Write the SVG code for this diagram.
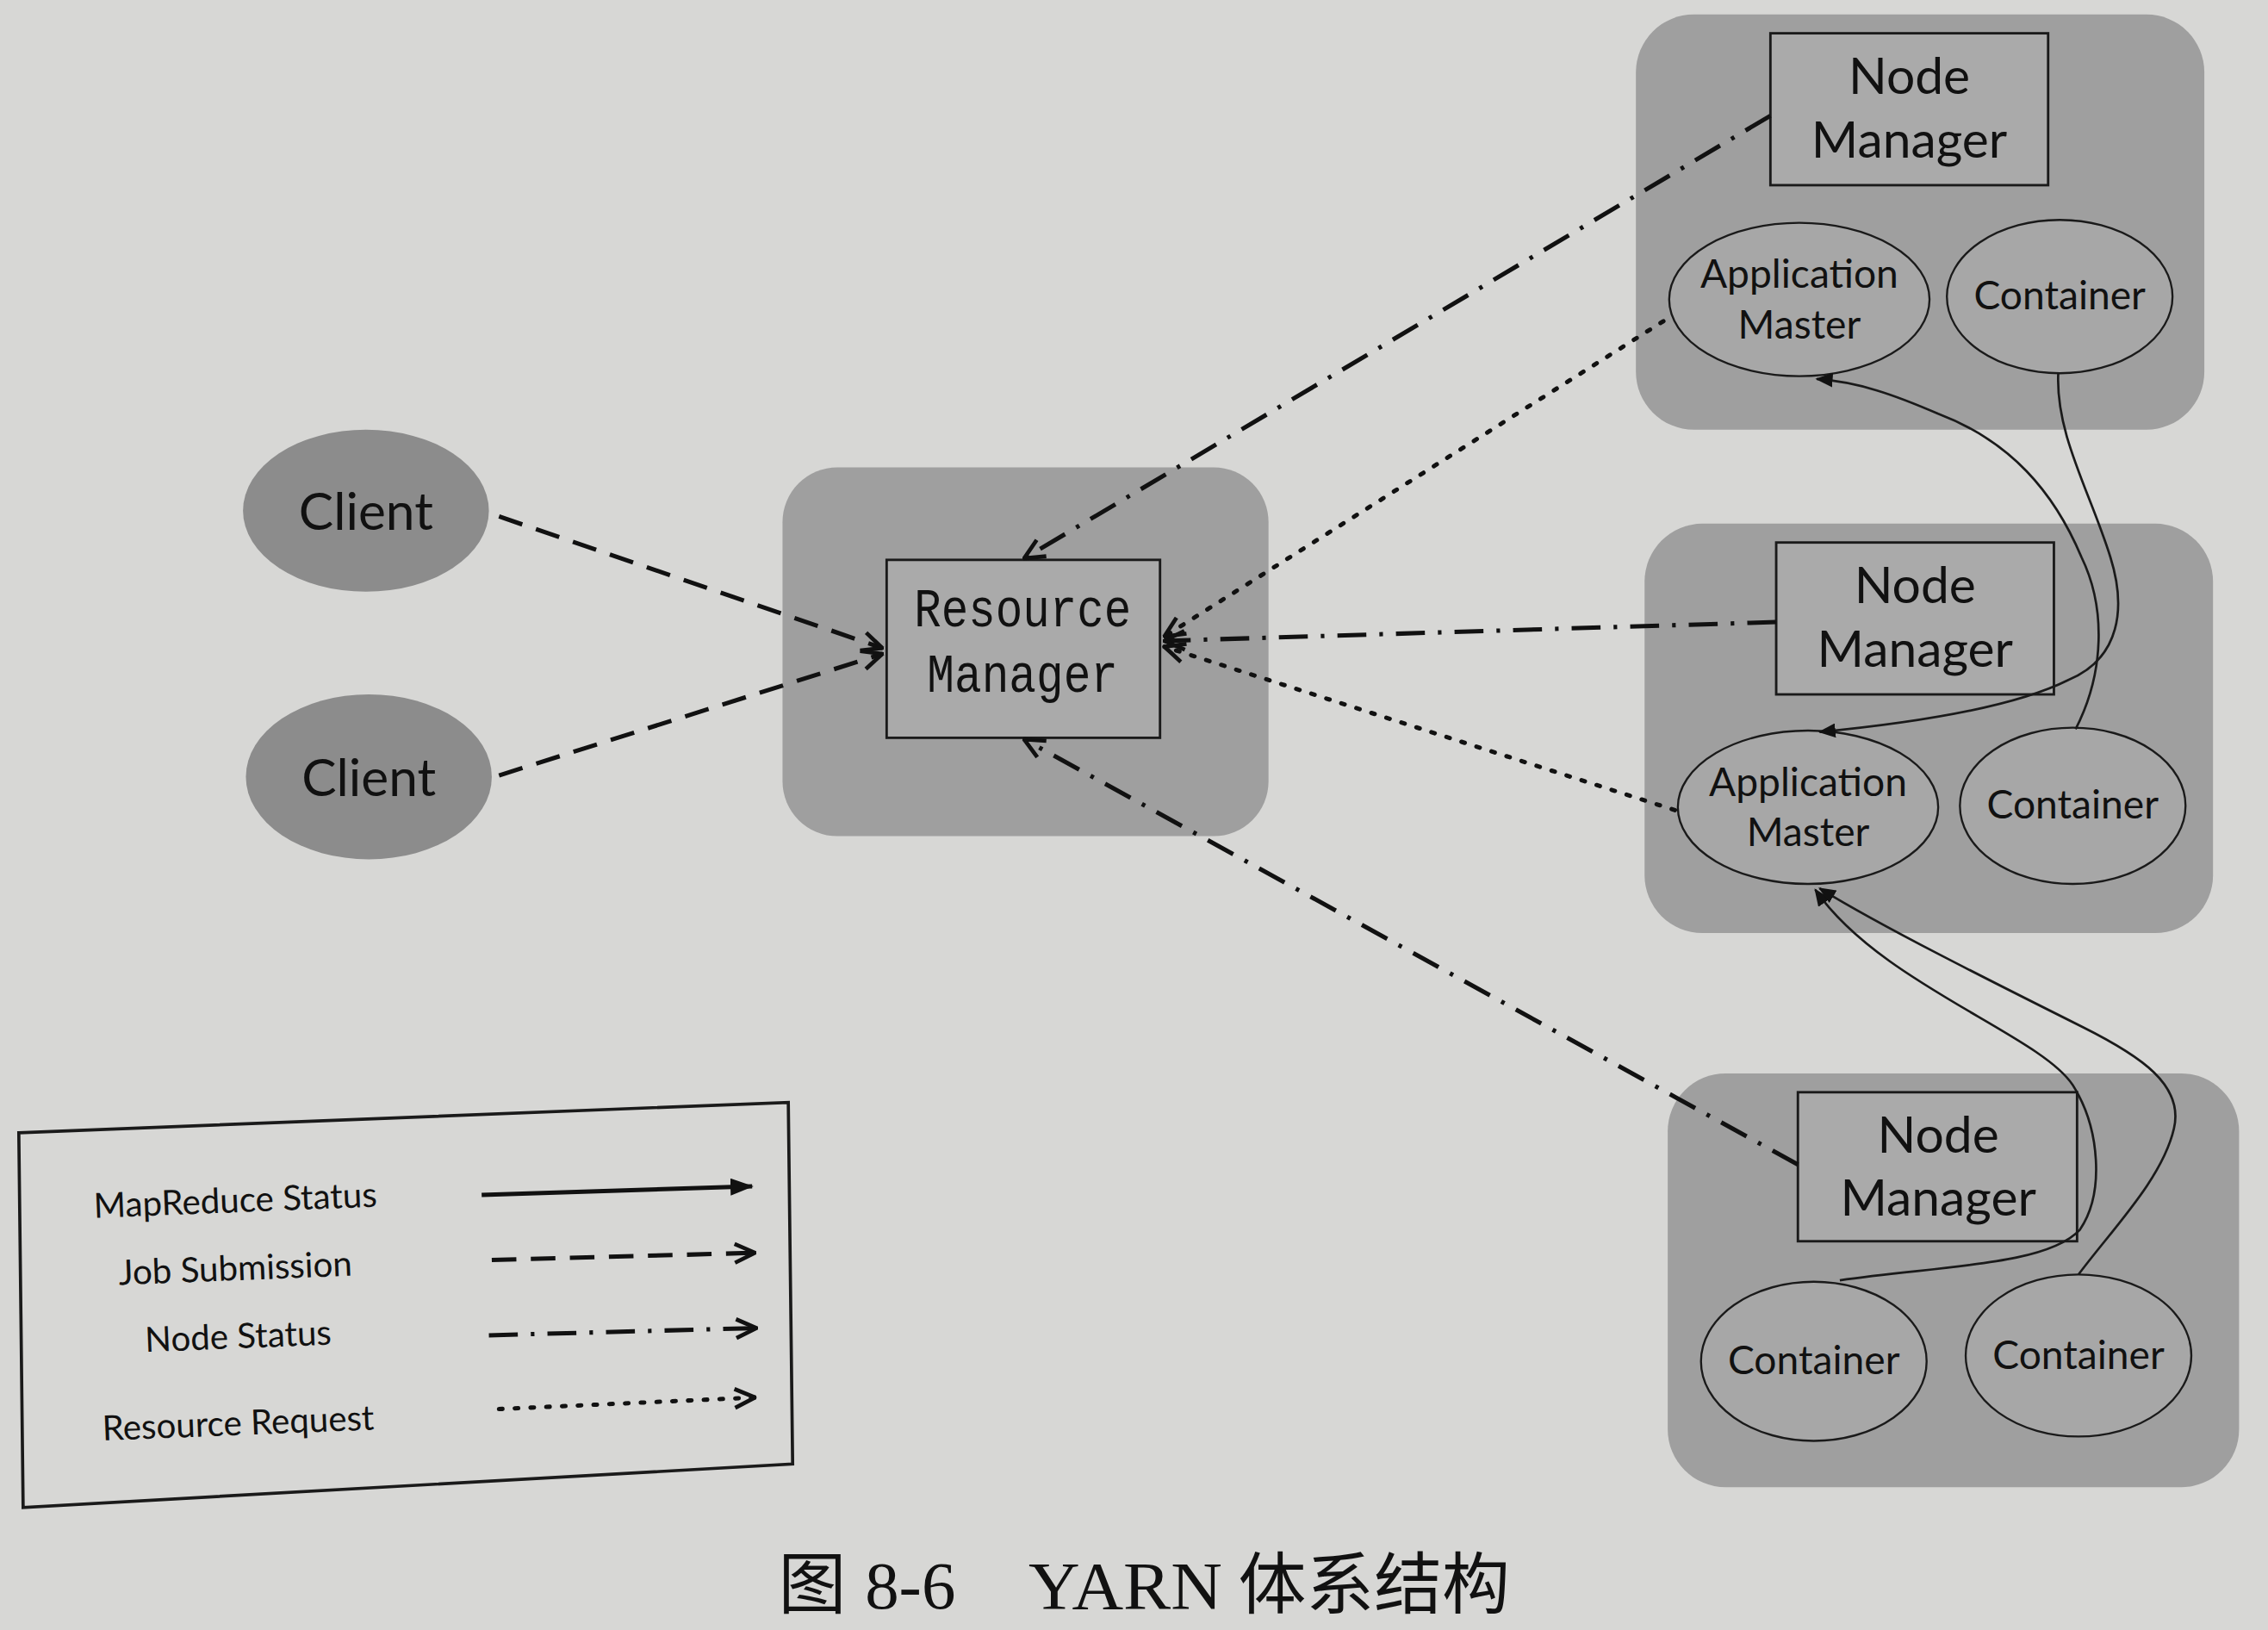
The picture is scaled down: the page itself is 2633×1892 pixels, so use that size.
<svg xmlns="http://www.w3.org/2000/svg" width="2633" height="1892" viewBox="0 0 2633 1892">
<style>
.region{fill:#9f9f9f;stroke:none}
.box{fill:#aaaaaa;stroke:#1a1a1a;stroke-width:1.7}
.ell{fill:#a7a7a7;stroke:#1a1a1a;stroke-width:1.4}
.client{fill:#8c8c8c;stroke:none}
.sans{font-family:Lato,"Open Sans","Liberation Sans",sans-serif;fill:#111;text-anchor:middle}
.nm{font-size:35px}
.am{font-size:27.5px}
.cl{font-size:36px}
.lg{font-size:24px;text-anchor:middle}
.rm{font-family:"Liberation Mono","DejaVu Sans Mono",monospace;font-size:38px;fill:#111;text-anchor:middle}
.cap{font-family:"Liberation Serif","Noto Sans CJK SC",serif;font-size:47px;fill:#111}
.conn{fill:none;stroke:#111;stroke-width:3}
.dash{stroke-dasharray:17 10}
.dashdot{stroke-dasharray:20 9 2.5 9}
.dot{stroke-dasharray:2.4 8.5;stroke-linecap:round}
.curve{fill:none;stroke:#1a1a1a;stroke-width:1.6}
</style>
<defs>
<marker id="open" viewBox="0 0 16 16" refX="15" refY="8" markerWidth="16" markerHeight="16" markerUnits="userSpaceOnUse" orient="auto">
<path d="M1,1.5 L15,8 L1,14.5" fill="none" stroke="#111" stroke-width="2.8" stroke-dasharray="none"/>
</marker>
<marker id="fill" viewBox="0 0 12 10" refX="11" refY="5" markerWidth="12" markerHeight="10" markerUnits="userSpaceOnUse" orient="auto">
<path d="M0,0 L12,5 L0,10 z" fill="#111"/>
</marker>
<marker id="fillL" viewBox="0 0 16 12" refX="15" refY="6" markerWidth="16" markerHeight="12" markerUnits="userSpaceOnUse" orient="auto">
<path d="M0,0 L16,6 L0,12 z" fill="#111"/>
</marker>
</defs>
<rect x="0" y="0" width="2633" height="1892" fill="#d7d7d5"/>
<g transform="scale(1.6792)">
  <g id="rm-region"><rect class="region" x="541" y="323" width="336" height="255" rx="38"/></g>
  <g id="nm1-region"><rect class="region" x="1131" y="10" width="393" height="287" rx="40"/></g>
  <g id="nm2-region"><rect class="region" x="1137" y="362" width="393" height="283" rx="40"/></g>
  <g id="nm3-region"><rect class="region" x="1153" y="742" width="395" height="286" rx="40"/></g>

  <g id="client1"><ellipse class="client" cx="253" cy="353" rx="85" ry="56"/><text class="sans cl" x="253" y="366">Client</text></g>
  <g id="client2"><ellipse class="client" cx="255" cy="537" rx="85" ry="57"/><text class="sans cl" x="255" y="550">Client</text></g>

  <g id="resource-manager"><rect class="box" x="613" y="387" width="189" height="123"/>
    <text class="rm" x="707" y="433" textLength="150" lengthAdjust="spacingAndGlyphs">Resource</text>
    <text class="rm" x="707" y="478" textLength="132" lengthAdjust="spacingAndGlyphs">Manager</text></g>

  <g id="nm1"><rect class="box" x="1224" y="23" width="192" height="105"/>
    <text class="sans nm" x="1320" y="65">Node</text><text class="sans nm" x="1320" y="109">Manager</text></g>
  <g id="am1"><ellipse class="ell" cx="1244" cy="207" rx="90" ry="53"/>
    <text class="sans am" x="1244" y="199">Application</text><text class="sans am" x="1244" y="234">Master</text></g>
  <g id="container1"><ellipse class="ell" cx="1424" cy="205" rx="78" ry="53"/>
    <text class="sans am" x="1424" y="214">Container</text></g>

  <g id="nm2"><rect class="box" x="1228" y="375" width="192" height="105"/>
    <text class="sans nm" x="1324" y="417">Node</text><text class="sans nm" x="1324" y="461">Manager</text></g>
  <g id="am2"><ellipse class="ell" cx="1250" cy="558" rx="90" ry="53"/>
    <text class="sans am" x="1250" y="550">Application</text><text class="sans am" x="1250" y="585">Master</text></g>
  <g id="container2"><ellipse class="ell" cx="1433" cy="557" rx="78" ry="54"/>
    <text class="sans am" x="1433" y="566">Container</text></g>

  <g id="nm3"><rect class="box" x="1243" y="755" width="193" height="103"/>
    <text class="sans nm" x="1340" y="797">Node</text><text class="sans nm" x="1340" y="840">Manager</text></g>
  <g id="container3"><ellipse class="ell" cx="1254" cy="941" rx="78" ry="55"/>
    <text class="sans am" x="1254" y="950">Container</text></g>
  <g id="container4"><ellipse class="ell" cx="1437" cy="937" rx="78" ry="56"/>
    <text class="sans am" x="1437" y="946">Container</text></g>

  <g id="connectors">
    <path class="conn dash" d="M345,357 L610,448" marker-end="url(#open)"/>
    <path class="conn dash" d="M345,536 L610,452" marker-end="url(#open)"/>
    <path class="conn dashdot" d="M1224,80 L708,386" marker-end="url(#open)"/>
    <path class="conn dot" d="M1150,222 L805,440" marker-end="url(#open)"/>
    <path class="conn dashdot" d="M1228,430 L805,443" marker-end="url(#open)"/>
    <path class="conn dot" d="M1158,560 L805,447" marker-end="url(#open)"/>
    <path class="conn dashdot" d="M1243,805 L708,511" marker-end="url(#open)"/>
    <path class="curve" d="M1435,504 C1455,465 1456,420 1439,385 C1420,340 1390,305 1340,286 C1310,273 1285,264 1256,262" marker-end="url(#fill)"/>
    <path class="curve" d="M1423,258 C1421,300 1445,340 1459,385 C1470,420 1466,455 1430,470 C1390,490 1320,500 1258,506" marker-end="url(#fill)"/>
    <path class="curve" d="M1272,885 C1340,875 1415,875 1438,850 C1455,825 1452,780 1433,750 C1410,715 1300,680 1255,615" marker-end="url(#fill)"/>
    <path class="curve" d="M1437,881 C1460,850 1495,815 1503,780 C1510,750 1480,730 1440,710 C1380,680 1300,640 1258,614" marker-end="url(#fill)"/>
  </g>

  <g id="legend">
    <polygon points="13,783 545,762 548,1012 16,1042" fill="none" stroke="#1a1a1a" stroke-width="2.2"/>
    <text class="sans lg" x="163" y="838" transform="rotate(-2.3 163 838)">MapReduce Status</text>
    <text class="sans lg" x="163" y="885" transform="rotate(-2.3 163 885)">Job Submission</text>
    <text class="sans lg" x="165" y="932" transform="rotate(-2.3 165 932)">Node Status</text>
    <text class="sans lg" x="165" y="992" transform="rotate(-2.3 165 992)">Resource Request</text>
    <path class="conn" d="M333,826 L520,820" marker-end="url(#fillL)"/>
    <path class="conn dash" d="M340,871 L522,866" marker-end="url(#open)"/>
    <path class="conn dashdot" d="M338,923 L523,918" marker-end="url(#open)"/>
    <path class="conn dot" d="M345,974 L522,966" marker-end="url(#open)"/>
  </g>

  <g id="caption">
    <text class="cap" y="1112"><tspan x="538">图</tspan><tspan x="598">8-6</tspan><tspan x="711" textLength="134" lengthAdjust="spacingAndGlyphs">YARN</tspan><tspan x="856">体系结构</tspan></text>
  </g>
</g>
</svg>
